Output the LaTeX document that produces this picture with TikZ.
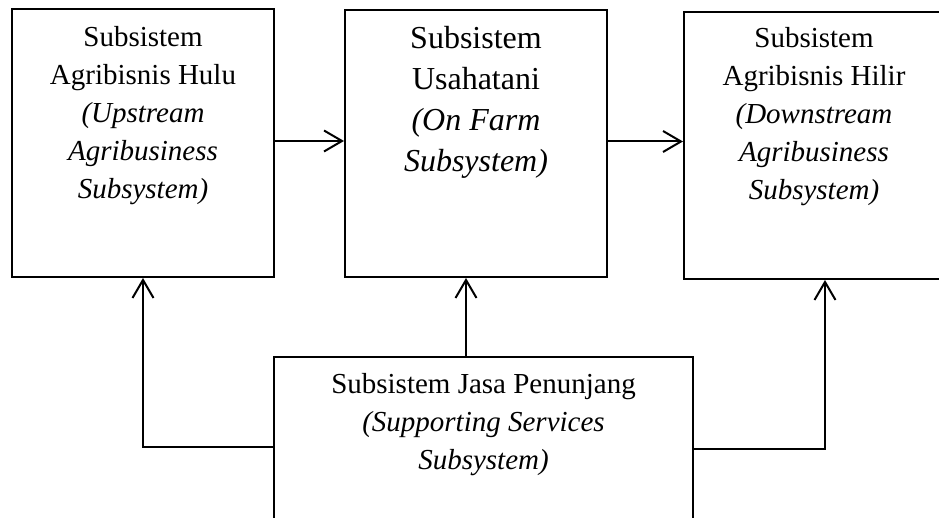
\documentclass[tikz,border=0pt]{standalone}
\usepackage{fontspec}
\setmainfont{Liberation Serif}
\usetikzlibrary{arrows.meta, positioning}
\tikzstyle{arrow} = [line width=1pt,-{Straight Barb[length=9pt,width=10.5pt,line width=1pt]}]
\tikzstyle{subsys} = [rectangle, draw=black, line width=1pt, inner sep=0pt]
\tikzstyle{label} = [align=center, anchor=base, inner sep=0pt, font=\fontsize{14.5}{19}\selectfont]
\tikzstyle{biglabel} = [align=center, anchor=base, inner sep=0pt, font=\fontsize{16}{20.5}\selectfont]

\begin{document}
\begin{tikzpicture}[x=0.5pt, y=-0.5pt]

\useasboundingbox (0,0) rectangle (939,518);
\clip (0,0) rectangle (939,518);

\node (hulu) [subsys, minimum width=131pt, minimum height=134pt] at (143,143) {};
\node (usaha) [subsys, minimum width=131pt, minimum height=133.5pt] at (476,143.5) {};
\node (hilir) [subsys, minimum width=130pt, minimum height=133.5pt] at (814,145.5) {};
\node (jasa) [subsys, minimum width=209.5pt, minimum height=90pt] at (483.5,447) {};

% text sits on the baseline of its last line
\node (hulutxt) [label] at ([yshift=-95.5pt]hulu.north) {Subsistem\\Agribisnis Hulu\\\textit{(Upstream}\\\textit{Agribusiness}\\\textit{Subsystem)}};
\node (usahatxt) [biglabel] at ([yshift=-81.5pt]usaha.north) {Subsistem\\Usahatani\\\textit{(On Farm}\\\textit{Subsystem)}};
\node (hilirtxt) [label] at ([yshift=-94.5pt]hilir.north) {Subsistem\\Agribisnis Hilir\\\textit{(Downstream}\\\textit{Agribusiness}\\\textit{Subsystem)}};
\node (jasatxt) [label] at ([yshift=-57pt]jasa.north) {Subsistem Jasa Penunjang\\\textit{(Supporting Services}\\\textit{Subsystem)}};

\draw [arrow] ([yshift=1pt]hulu.east) -- ([yshift=1pt]hulu.east -| usaha.west);
\draw [arrow] ([yshift=1pt]usaha.east) -- ([yshift=1pt]usaha.east -| hilir.west);

\draw [arrow] (jasa.west) -| (hulu.south);
\draw [arrow] ([xshift=-8.75pt]jasa.north) -- ([xshift=-8.75pt]jasa.north |- usaha.south);
\draw [arrow] ([yshift=-1pt]jasa.east) -| ([xshift=5.5pt]hilir.south);

\end{tikzpicture}
\end{document}
